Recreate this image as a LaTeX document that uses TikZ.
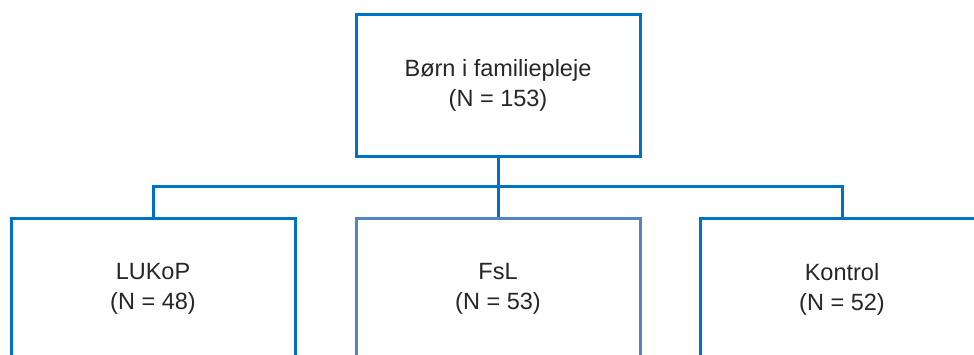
\documentclass[tikz,border=0pt]{standalone}
\usepackage{fontspec}
\setmainfont{Liberation Sans}
\definecolor{boxblue}{RGB}{0,114,198}
\definecolor{midblue}{RGB}{84,133,192}
\tikzset{
  orgbox/.style={draw=boxblue, line width=3pt, fill=white, minimum width=284pt, minimum height=142pt,
    inner sep=0pt, align=center, font=\fontsize{23.5}{30}\selectfont, text=black!85},
  conn/.style={draw=boxblue, line width=3pt}
}
\begin{document}
\begin{tikzpicture}[x=1pt,y=-1pt]
\useasboundingbox (0,0) rectangle (974,354);
\clip (0,0) rectangle (974,354);
\node[orgbox] (top) at (498,85) {Børn i familiepleje\\(N = 153)};
\node[orgbox] (lukop) at (153,289) {LUKoP\\(N = 48)};
\node[orgbox, draw=midblue] (fsl) at (498,289) {FsL\\(N = 53)};
\node[orgbox] (kontrol) at (842,289) {Kontrol\\(N = 52)};
\coordinate (hub) at (498,186);
\draw[conn] (top.south) -- (hub);
\draw[conn] (lukop.north) |- (hub) -| (kontrol.north);
\draw[conn] (hub) -- (fsl.north);
\end{tikzpicture}
\end{document}
